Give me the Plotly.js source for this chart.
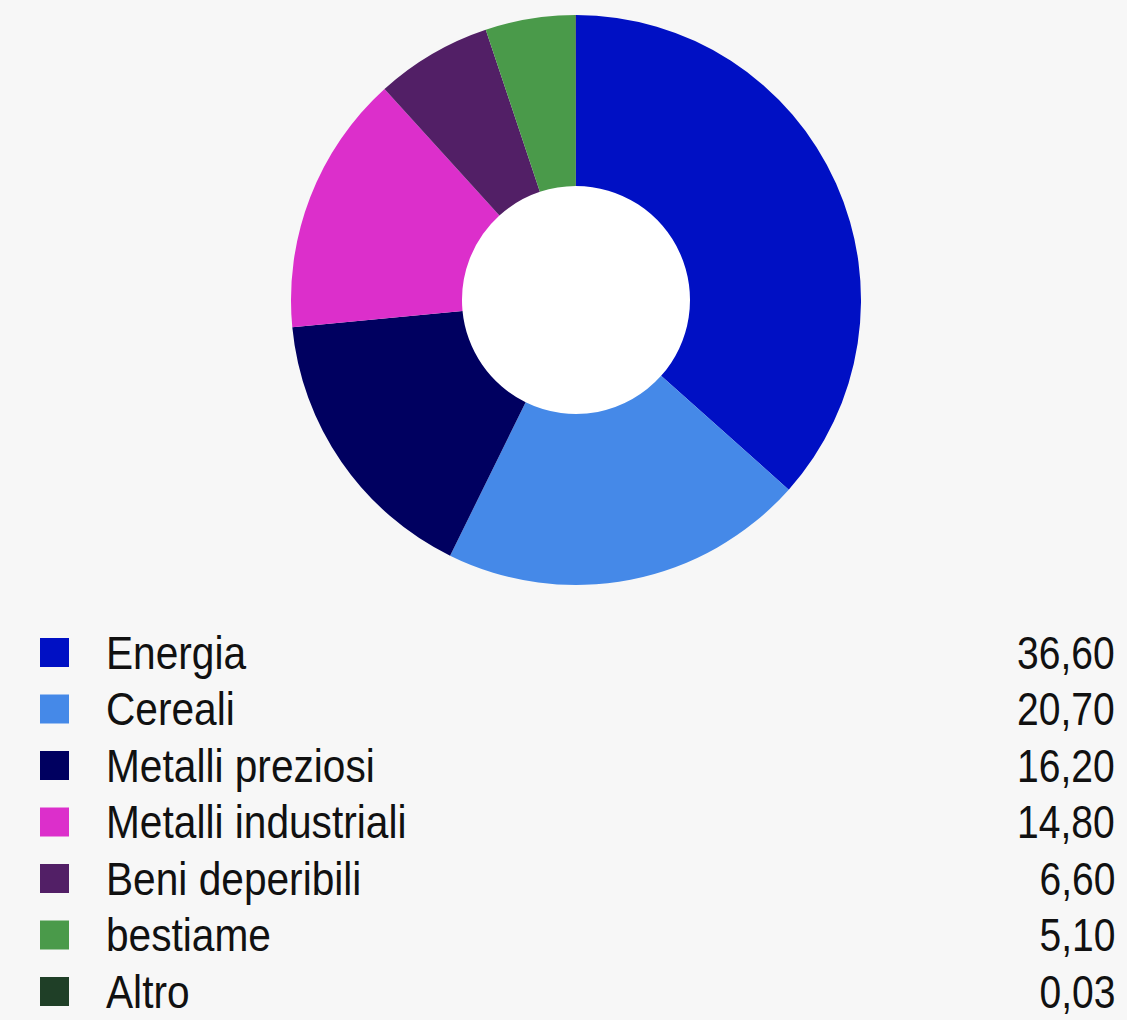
<!DOCTYPE html>
<html><head><meta charset="utf-8">
<script src="https://cdn.plot.ly/plotly-3.0.1.min.js"></script>
<style>html,body{margin:0;padding:0;background:#f7f7f7;}</style>
</head><body>
<div id="chart" style="width:1127px;height:1020px;"></div>
<script>
const categories = ["Energia","Cereali","Metalli preziosi","Metalli industriali","Beni deperibili","bestiame","Altro"];
const values = [36.60, 20.70, 16.20, 14.80, 6.60, 5.10, 0.03];
const valueLabels = ["36,60","20,70","16,20","14,80","6,60","5,10","0,03"];
const colors = ["#0010c4","#4589e8","#000060","#dc2fcb","#521f66","#4a9a4a","#1f3f27"];

const W = 1127, H = 1020;
const px = x => x / W, py = y => 1 - y / H;

const trace = {
  type: "pie",
  labels: categories,
  values: values,
  marker: {colors: colors, line: {width: 0}},
  hole: 0.4,
  sort: false,
  direction: "clockwise",
  rotation: 0,
  textinfo: "none",
  hoverinfo: "label+value",
  showlegend: false,
  domain: {x: [px(291), px(861)], y: [py(585), py(15)]}
};

const annotations = [];
const shapes = [{
  type: "circle", xref: "paper", yref: "paper", layer: "below",
  x0: px(460), x1: px(692), y0: py(416), y1: py(184),
  fillcolor: "#ffffff", line: {width: 0}
}];
const rowY0 = 652, rowStep = 56.5;
const fontFam = "Liberation Sans, Arial, sans-serif";
categories.forEach((c, i) => {
  const y = rowY0 + i * rowStep;
  shapes.push({
    type: "rect", xref: "paper", yref: "paper",
    x0: px(40), x1: px(69), y0: py(y + 15), y1: py(y - 14),
    fillcolor: colors[i], line: {width: 0}
  });
  annotations.push({
    xref: "paper", yref: "paper", x: px(104), y: py(y), xanchor: "left", yanchor: "middle",
    text: c, showarrow: false, font: {size: 47, color: "#111111", family: fontFam}
  });
  annotations.push({
    xref: "paper", yref: "paper", x: px(1117), y: py(y), xanchor: "right", yanchor: "middle",
    text: valueLabels[i], showarrow: false, font: {size: 47, color: "#111111", family: fontFam}
  });
});

const layout = {
  width: W, height: H,
  margin: {l: 0, r: 0, t: 0, b: 0},
  paper_bgcolor: "#f7f7f7",
  plot_bgcolor: "#f7f7f7",
  font: {family: fontFam, color: "#111111"},
  showlegend: false,
  shapes: shapes,
  annotations: annotations
};

function condense() {
  document.querySelectorAll("#chart .annotation").forEach((g, idx) => {
    const t = g.querySelector("text.annotation-text");
    if (!t) return;
    const isValue = idx % 2 === 1;
    const s = isValue ? 0.83 : 0.865;
    const bb = t.getBBox();
    const ox = isValue ? bb.x + bb.width : bb.x;
    t.setAttribute("transform", `translate(${ox},0) scale(${s},1) translate(${-ox},0)`);
  });
}

Plotly.newPlot("chart", [trace], layout, {displayModeBar: false, staticPlot: true}).then(condense);
</script>
</body></html>
